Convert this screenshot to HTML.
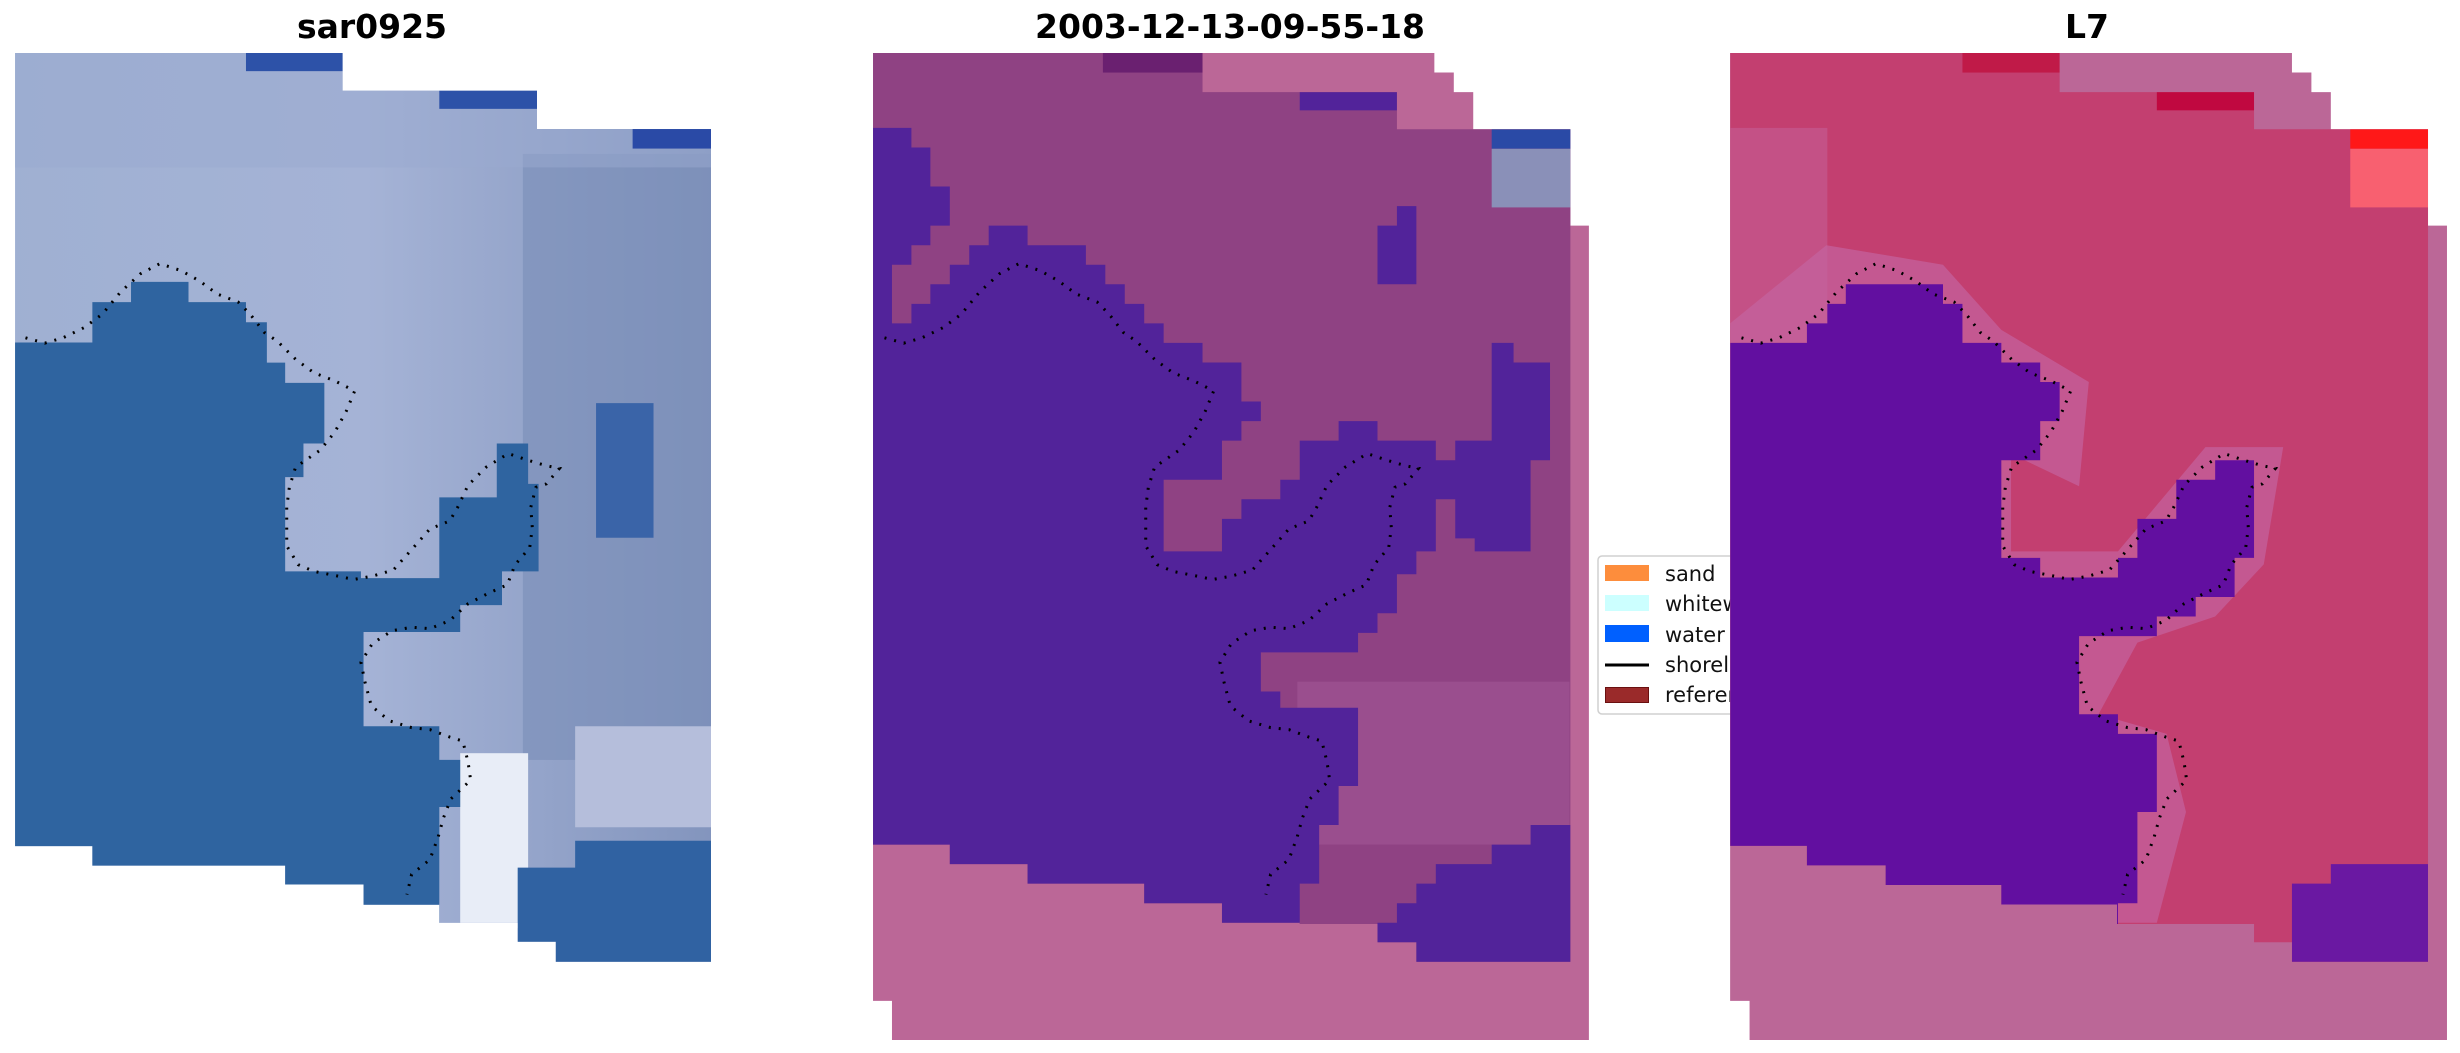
<!DOCTYPE html>
<html><head><meta charset="utf-8"><style>
html,body{margin:0;padding:0;background:#fff;overflow:hidden;}
svg{display:block;}
text{font-family:"DejaVu Sans","Liberation Sans",sans-serif;}
</style></head><body>
<svg width="2460" height="1053" viewBox="0 0 2460 1053" xmlns="http://www.w3.org/2000/svg">
<defs>
 <clipPath id="c1"><polygon points="28,80 655,80 655,136 1027,136 1027,193 1360,193 1360,1430 1063,1430 1063,1400 990,1400 990,1372 840,1372 840,1345 695,1345 695,1315 545,1315 545,1287 176,1287 176,1258 28,1258"/></clipPath>
 <clipPath id="c2"><polygon points="27,35 705,35 705,95 1105,95 1105,152 1462,152 1462,1430 1145,1430 1145,1400 1065,1400 1065,1372 905,1372 905,1370 745,1370 745,1340 585,1340 585,1310 345,1310 345,1280 185,1280 185,1250 27,1250"/></clipPath>
 <clipPath id="c3"><polygon points="62,35 740,35 740,95 1140,95 1140,152 1498,152 1498,1430 1218,1430 1218,1400 1140,1400 1140,1372 858,1372 858,1342 620,1342 620,1312 382,1312 382,1282 220,1282 220,1252 62,1252"/></clipPath>
 <linearGradient id="g1" x1="0" y1="0" x2="1" y2="0"><stop offset="0" stop-color="#9fb0d2"/><stop offset="0.5" stop-color="#a5b3d6"/><stop offset="1" stop-color="#8193bc"/></linearGradient>
 <g id="dots" transform="translate(0.4,-0.9) scale(0.5225,0.6733)"><polyline fill="none" stroke="#000" stroke-width="3" vector-effect="non-scaling-stroke" stroke-dasharray="2 8" points="48,503 85,511 120,503 160,488 195,468 230,435 268,408 305,393 345,403 380,418 415,438 455,450 478,468 505,495 530,508 565,535 600,555 640,567 678,582 662,612 640,643 612,670 565,695 553,725 548,755 548,785 548,812 570,840 600,850 640,856 676,862 712,857 752,848 790,815 822,787 860,775 875,755 895,722 930,695 972,675 1010,685 1045,693 1070,697 1045,720 1025,725 1015,755 1018,785 1013,815 985,840 970,870 935,882 895,898 860,923 822,935 787,933 750,938 712,957 690,985 698,1015 710,1050 745,1072 787,1082 822,1085 860,1096 885,1102 895,1133 900,1160 862,1188 848,1216 838,1244 822,1278 787,1300 778,1330"/></g>
</defs>

<text x="372" y="38" font-size="33" font-weight="bold" text-anchor="middle">sar0925</text>
<text x="1230" y="38" font-size="33" font-weight="bold" text-anchor="middle">2003-12-13-09-55-18</text>
<text x="2087" y="38" font-size="33" font-weight="bold" text-anchor="middle">L7</text>

<!-- Panel 1 -->
<g transform="translate(0.4,-0.9) scale(0.5225,0.6733)">
 <g clip-path="url(#c1)">
  <rect x="0" y="0" width="1400" height="1500" fill="url(#g1)"/>
  <rect x="1000" y="230" width="360" height="900" fill="#7a8db8" opacity="0.6"/>
  <rect x="28" y="80" width="1340" height="170" fill="#9aaad0" opacity="0.5"/>
  <rect x="880" y="1120" width="130" height="260" fill="#e8edf7"/>
  <rect x="1100" y="1080" width="260" height="150" fill="#b5bedb"/>
  <polygon fill="#2f64a0" points="28,510 176,510 176,450 250,450 250,420 360,420 360,450 470,450 470,480 510,480 510,540 545,540 545,570 620,570 620,660 580,660 580,710 545,710 545,850 690,850 690,860 840,860 840,740 950,740 950,660 1010,660 1010,720 1030,720 1030,850 960,850 960,900 880,900 880,940 695,940 695,1080 840,1080 840,1130 880,1130 880,1200 840,1200 840,1260 840,1440 28,1440"/>
  <polygon fill="#3062a2" points="990,1290 1100,1290 1100,1250 1360,1250 1360,1440 990,1440"/>
  <polygon fill="#3a64a8" points="1140,600 1250,600 1250,800 1140,800"/>
  <rect x="470" y="80" width="185" height="27" fill="#2d52a8"/>
  <rect x="840" y="136" width="187" height="27" fill="#2d52a8"/>
  <rect x="1210" y="193" width="150" height="29" fill="#2a4aa6"/>
 </g>
</g>
<use href="#dots"/>

<!-- Panel 2 -->
<g transform="translate(859.9,30.2) scale(0.486,0.6515)">
 <polygon fill="#bb6797" points="27,35 1182,35 1182,65 1222,65 1222,95 1262,95 1262,152 1462,152 1462,300 1500,300 1500,1550 66,1550 66,1490 27,1490"/>
 <g clip-path="url(#c2)">
  <rect x="0" y="0" width="1600" height="1600" fill="#8f4283"/>
  <rect x="500" y="35" width="205" height="30" fill="#6a2070"/>
  <rect x="905" y="95" width="200" height="28" fill="#52239a"/>
  <rect x="1300" y="152" width="162" height="30" fill="#2a4aa6"/>
  <rect x="1300" y="182" width="162" height="90" fill="#8a90b8"/>
  <rect x="900" y="1000" width="560" height="250" fill="#9a4e8e"/>
  <polygon fill="#52239a" points="27,150 106,150 106,180 145,180 145,240 185,240 185,300 145,300 145,330 106,330 106,360 66,360 66,450 106,450 106,420 145,420 145,390 185,390 185,360 225,360 225,330 265,330 265,300 345,300 345,330 465,330 465,360 505,360 505,390 545,390 545,420 585,420 585,450 625,450 625,480 705,480 705,510 785,510 785,570 825,570 825,600 785,600 785,630 745,630 745,690 625,690 625,800 745,800 745,750 785,750 785,720 865,720 865,690 905,690 905,630 985,630 985,600 1065,600 1065,630 1185,630 1185,660 1225,660 1225,630 1300,630 1300,480 1345,480 1345,510 1420,510 1420,660 1380,660 1380,800 1265,800 1265,780 1225,780 1225,720 1185,720 1185,800 1145,800 1145,835 1105,835 1105,895 1065,895 1065,925 1025,925 1025,955 825,955 825,1015 865,1015 865,1040 1025,1040 1025,1160 985,1160 985,1220 945,1220 945,1310 905,1310 905,1400 27,1400"/>
  <polygon fill="#52239a" points="1065,1400 1065,1370 1105,1370 1105,1340 1145,1340 1145,1310 1185,1310 1185,1280 1300,1280 1300,1250 1380,1250 1380,1220 1462,1220 1462,1440 1065,1440"/>
  <polygon fill="#52239a" points="1065,300 1105,300 1105,270 1145,270 1145,390 1065,390"/>
 </g>
</g>
<use href="#dots" transform="translate(859,0)"/>

<!-- Legend -->
<rect x="1598" y="556" width="190" height="158" rx="4" fill="#fff" stroke="#d0d0d0" stroke-width="1.5"/>
<rect x="1605" y="565" width="44" height="16" fill="#fd8d3c"/>
<rect x="1605" y="595" width="44" height="16" fill="#ccffff"/>
<rect x="1605" y="625" width="44" height="17" fill="#0060ff"/>
<line x1="1605" y1="665" x2="1649" y2="665" stroke="#000" stroke-width="3"/>
<rect x="1605.5" y="687.5" width="43" height="15" fill="#9a2a2a" stroke="#6a1010"/>
<g font-size="21" fill="#111">
<text x="1665" y="581">sand</text>
<text x="1665" y="611">whitewater</text>
<text x="1665" y="642">water</text>
<text x="1665" y="672">shoreline</text>
<text x="1665" y="702">reference</text>
</g>

<!-- Panel 3 -->
<g transform="translate(1700,30.2) scale(0.486,0.6515)">
 <polygon fill="#bb6797" points="62,35 1218,35 1218,65 1258,65 1258,95 1298,95 1298,152 1498,152 1498,300 1537,300 1537,1550 102,1550 102,1490 62,1490"/>
 <g clip-path="url(#c3)">
  <rect x="0" y="0" width="1600" height="1600" fill="#c33f70"/>
  <rect x="62" y="150" width="200" height="330" fill="#c45a90" opacity="0.7"/>
  <rect x="540" y="35" width="200" height="30" fill="#c01a48"/>
  <rect x="940" y="95" width="200" height="28" fill="#c00840"/>
  <rect x="1338" y="152" width="160" height="30" fill="#ff1818"/>
  <rect x="1338" y="182" width="160" height="90" fill="#f86070"/>
  <polygon fill="#c464a0" opacity="0.7" points="62,450 260,330 500,360 620,460 800,540 780,700 640,650 640,800 860,800 1040,640 1200,640 1160,820 1060,900 900,940 820,1050 960,1080 1000,1200 940,1370 860,1370 62,1370"/>
  <polygon fill="#620fa0" points="62,480 220,480 220,450 262,450 262,420 300,420 300,390 500,390 500,420 540,420 540,480 620,480 620,510 700,510 700,540 740,540 740,600 700,600 700,660 620,660 620,810 700,810 700,840 860,840 860,810 900,810 900,750 980,750 980,690 1060,690 1060,660 1140,660 1140,810 1100,810 1100,870 1020,870 1020,900 940,900 940,930 780,930 780,1050 860,1050 860,1080 940,1080 940,1200 900,1200 900,1340 860,1340 860,1400 62,1400"/>
  <polygon fill="#6a18a2" points="1218,1310 1298,1310 1298,1280 1498,1280 1498,1440 1218,1440"/>
 </g>
</g>
<use href="#dots" transform="translate(1716,0)"/>
</svg>
</body></html>
